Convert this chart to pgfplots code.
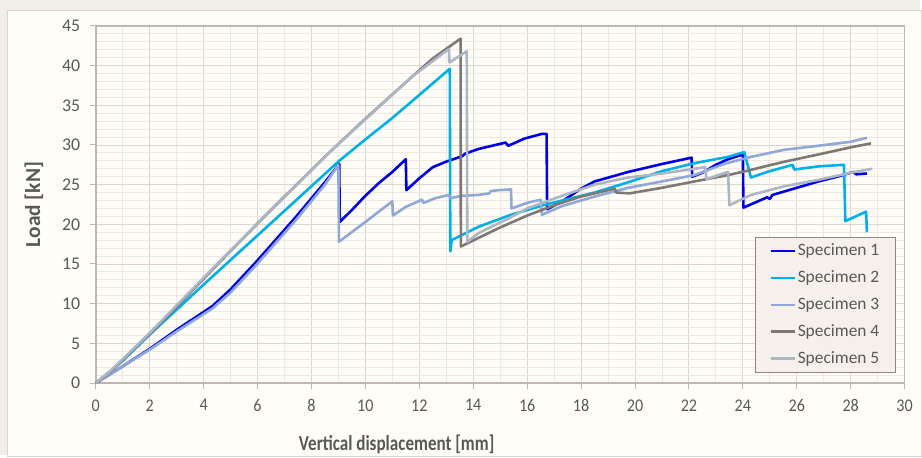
\documentclass[border=0pt]{standalone}
\usepackage{pgfplots}
\pgfplotsset{compat=1.18}
\usepackage{fontspec}
\setmainfont{Carlito}
\definecolor{sA}{RGB}{0,0,230}
\definecolor{sB}{RGB}{0,176,232}
\definecolor{sC}{RGB}{143,168,216}
\definecolor{sD}{RGB}{125,120,116}
\definecolor{sE}{RGB}{172,182,196}
\definecolor{outerbg}{RGB}{239,238,232}
\definecolor{innerbg}{RGB}{255,253,247}
\definecolor{innerborder}{RGB}{218,213,205}
\definecolor{gridmaj}{RGB}{221,214,206}
\definecolor{gridmin}{RGB}{242,230,224}
\definecolor{axisc}{RGB}{190,184,177}
\definecolor{labc}{RGB}{89,89,89}
\definecolor{legfill}{RGB}{245,240,235}
\definecolor{legdraw}{RGB}{140,135,130}
\begin{document}
\begin{tikzpicture}
\fill[outerbg] (-96bp,-72bp) rectangle (826bp,384bp);
\filldraw[fill=innerbg, draw=innerborder, line width=0.8bp] (-89bp,-74bp) rectangle (828bp,374bp);
\begin{axis}[
  scale only axis, width=811bp, height=358bp,
  xmin=0, xmax=30, ymin=0, ymax=45,
  xtick={0,2,...,30}, ytick={0,5,...,45},
  minor x tick num=1, minor y tick num=4,
  grid=both,
  major grid style={gridmaj, line width=0.9bp},
  minor grid style={gridmin, line width=0.9bp},
  axis line style={axisc, line width=1.6bp},
  tick style={axisc, line width=1bp},
  major tick length=6bp, minor tick length=0pt,
  tick align=outside, xtick pos=bottom, ytick pos=left,
  ticklabel style={font=\fontsize{18}{18}\selectfont, text=labc},
  xticklabel style={yshift=-7bp, xscale=0.9},
  yticklabel style={xshift=-6bp},
  /pgf/number format/assume math mode=true,
  xlabel={\scalebox{0.8}[1]{Vertical displacement [mm]}}, ylabel={Load [kN]},
  label style={font=\bfseries\fontsize{21.5}{21.5}\selectfont, text=labc},
  xlabel style={at={(axis description cs:0.372,-0.171)}, anchor=center},
  ylabel style={at={(axis description cs:-0.0765,0.5)}, anchor=center},
  legend style={at={(rel axis cs:0.989,0.028)}, anchor=south east,
    fill=legfill, draw=legdraw, line width=1bp,
    font=\fontsize{17.5}{18}\selectfont, text=labc,
    inner xsep=15bp, inner ysep=3bp, row sep=5.5bp,
    nodes={inner xsep=1bp, inner ysep=3bp, text height=12bp, text depth=3.5bp}},
  legend cell align=left,
  legend image code/.code={\draw[#1, line width=2.8bp] (0bp,0bp) -- (24bp,0bp);},
  every axis plot/.append style={line width=2.6bp, line join=round},
]
\addplot[sA] coordinates {
(0,0) (1,2.1) (2,4.3) (3,6.7) (4.33,9.7) (5,11.8) (5.96,15.3) (7.44,21.0) (8.5,25.3) (9.03,27.6)
(9.05,20.3) (9.5,21.8) (10,23.6) (10.5,25.2) (11,26.6) (11.5,28.2)
(11.52,24.3) (12,25.8) (12.5,27.2) (13,27.9) (13.6,28.6) (13.7,28.9) (14.2,29.5) (14.7,29.9) (15.2,30.3)
(15.3,29.9) (15.9,30.8) (16.55,31.4) (16.72,31.4)
(16.74,21.9) (17.3,22.9) (18,24.5) (18.5,25.4) (19.75,26.6) (21,27.6) (22.1,28.4)
(22.12,26.0) (22.5,26.5) (23,27.5) (23.45,28.2) (24.0,28.8)
(24.02,22.1) (24.9,23.4) (25.0,23.2) (25.1,23.7) (26.2,24.8) (26.8,25.4) (27.5,26.0) (28.1,26.6) (28.2,26.3) (28.6,26.4)
};
\addlegendentry{Specimen 1}
\addplot[sB] coordinates {
(0,0) (1,2.8) (2,6.1) (4,12.4) (6,18.6) (9.03,28.0) (10,30.7) (11,33.4) (12,36.3) (13.13,39.6)
(13.15,16.6) (13.2,18.0) (14.2,19.7) (15.4,21.2) (16.7,22.5) (18.5,24.0) (19.75,25.3) (21,26.7) (22.2,27.7) (23.45,28.5) (24.05,29.1)
(24.3,25.9) (24.9,26.6) (25.85,27.5) (25.9,26.9) (26.8,27.3) (27.75,27.5)
(27.8,20.4) (28.57,21.6) (28.6,19.0)
};
\addlegendentry{Specimen 2}
\addplot[sC] coordinates {
(0,0) (1,2.1) (2,4.2) (3,6.5) (4.33,9.4) (5,11.4) (5.96,14.9) (7.44,20.6) (8.5,25.0) (9.0,27.5)
(9.02,17.8) (10,20.3) (10.5,21.6) (11.0,22.9)
(11.02,21.1) (11.5,22.2) (12.1,23.1) (12.15,22.7) (12.6,23.3) (13.1,23.7) (13.15,23.3) (13.6,23.6) (14.2,23.7) (14.6,23.9) (14.65,24.2) (14.95,24.3) (15.4,24.4)
(15.42,22.0) (16.0,22.7) (16.5,23.1)
(16.55,21.2) (17.3,22.3) (18.5,23.5) (19.75,24.6) (21,25.4) (22.2,26.2) (23.3,27.6) (24.3,28.5) (25.55,29.4) (26.8,29.9) (28,30.4) (28.6,30.9)
};
\addlegendentry{Specimen 3}
\addplot[sD] coordinates {
(0,0) (0.5,1.3) (1,2.9) (2,6.2) (3,9.6) (4.7,15.6) (6,20.1) (7,23.5) (8.77,29.4) (10,33.3) (11.73,38.6) (12.5,40.9) (13.53,43.4)
(13.54,17.2) (14.2,18.3) (15,19.6) (16,21.1) (17,22.4) (18,23.5) (19.25,24.5)
(19.3,24.0) (19.8,23.9) (21,24.6) (22.2,25.4) (23.45,26.2) (24.1,26.7) (25.55,27.9) (26.8,28.8) (28,29.7) (28.75,30.2)
};
\addlegendentry{Specimen 4}
\addplot[sE] coordinates {
(0,0) (0.5,1.4) (1,3.0) (2,6.3) (4.7,15.7) (8.77,29.4) (11.73,38.6) (13.1,42.1)
(13.12,40.4) (13.76,41.8)
(13.78,17.8) (14.2,18.9) (15.4,20.9) (16,22.0) (17.3,23.6) (18.5,25.0) (19.75,25.9) (21,26.4) (22.6,27.2)
(22.65,25.7) (23.45,26.6)
(23.5,22.4) (24.3,23.7) (25.55,24.8) (26.8,25.6) (28,26.5) (28.8,27.0)
};
\addlegendentry{Specimen 5}
\end{axis}
\end{tikzpicture}
\end{document}
